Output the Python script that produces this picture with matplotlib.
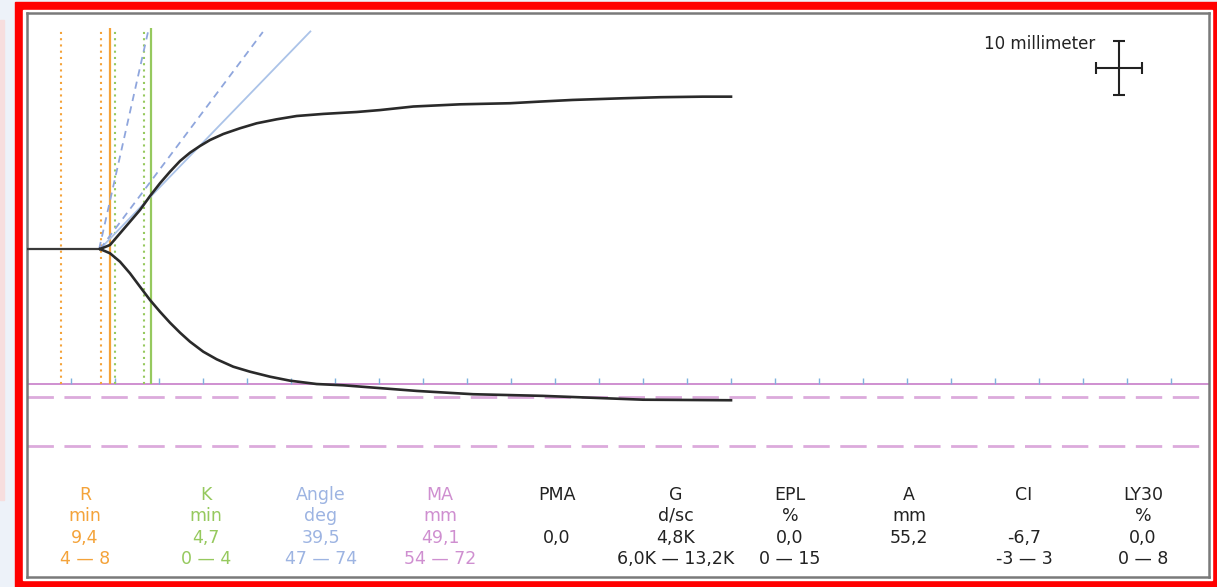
import matplotlib.pyplot as plt
from matplotlib.patches import Rectangle

# tracing, time in minutes, amplitude in mm (upper / lower branch)
base_t = [0.0, 8.3]
base_a = [0.0, 0.0]
upper_t = [8.3, 9.43, 10.57, 11.70, 12.84, 13.98, 15.11, 16.25, 17.39, 18.52, 19.66, 20.80, 22.31,
           24.20, 26.10, 28.38, 30.65, 33.67, 37.47, 40.1, 43.9, 49.2, 54.9, 58.3, 62.0, 67.6,
           72.0, 76.8, 80.0]
upper_a = [0.0, 0.73, 2.86, 4.98, 7.12, 9.67, 11.99, 14.11, 16.06, 17.57, 18.80, 19.89, 20.99,
           22.03, 22.94, 23.67, 24.27, 24.65, 25.0, 25.35, 26.0, 26.4, 26.6, 26.9, 27.2, 27.5,
           27.7, 27.8, 27.8]
lower_t = [8.3, 9.43, 10.57, 11.70, 12.84, 13.98, 15.11, 16.25, 17.39, 18.52, 20.03, 21.56, 23.44,
           25.34, 27.61, 29.89, 32.92, 35.94, 38.6, 44.3, 50.7, 58.6, 70.0, 80.0]
lower_a = [0.0, -0.78, -2.32, -4.43, -6.88, -9.31, -11.44, -13.45, -15.27, -16.91, -18.74, -20.13,
           -21.48, -22.39, -23.30, -24.03, -24.64, -24.87, -25.2, -25.9, -26.5, -26.8, -27.5, -27.6]

# marker lines
r_value = 9.45
r_range = [3.85, 8.4]
k_value = 14.1
k_range = [10.0, 13.3]
ma_value = 49.1
ma_range = [54, 72]
angle_solid = ([8.3, 32.2], [0.0, 39.7])
angle_dashed = [([8.3, 26.8], [0.0, 39.6]), ([8.2, 13.75], [0.0, 39.6])]
tick_minutes = list(range(0, 135, 5))

# results table
col_titles = ['R', 'K', 'Angle', 'MA', 'PMA', 'G', 'EPL', 'A', 'CI', 'LY30']
col_units = ['min', 'min', 'deg', 'mm', '', 'd/sc', '%', 'mm', '', '%']
col_values = ['9,4', '4,7', '39,5', '49,1', '0,0', '4,8K', '0,0', '55,2', '-6,7', '0,0']
col_ranges = ['4 — 8', '0 — 4', '47 — 74', '54 — 72', '', '6,0K — 13,2K', '0 — 15', '', '-3 — 3', '0 — 8']

ORANGE = '#f4a33a'
GREEN = '#96c95e'
BLUE = '#9db4e2'
PURPLE = '#cf8fd0'
col_colors = [ORANGE, GREEN, BLUE, PURPLE] + ['#222222'] * 6
col_x = [85, 206, 321, 440, 557, 676, 790, 909, 1024, 1143]
row_y = [495, 516, 538, 559]

W, H = 1217, 587
def fx(px):
    return px / W
def fy(py):
    return 1 - py / H

fig = plt.figure(figsize=(W / 100, H / 100), dpi=100)
fig.patch.set_facecolor('#edf2f9')
fig.add_artist(Rectangle((0, fy(500)), fx(4), fy(20) - fy(500), transform=fig.transFigure,
                         color='#f7dede', zorder=0))
fig.add_artist(Rectangle((fx(15), 0), 1 - fx(15), fy(2), transform=fig.transFigure,
                         color='#ff0000', zorder=0))
fig.add_artist(Rectangle((fx(23), fy(580)), fx(1212) - fx(23), fy(10) - fy(580),
                         transform=fig.transFigure, color='white', zorder=0))

ax = fig.add_axes([fx(27), fy(577), fx(1209) - fx(27), fy(13) - fy(577)])
PX_MIN, PX_MM = 8.8, 5.48
ax.set_xlim(0, (1209 - 27) / PX_MIN)
ax.set_ylim((249 - 577) / PX_MM, (249 - 13) / PX_MM)
ax.set_xticks([])
ax.set_yticks([])
for s in ax.spines.values():
    s.set_color('#7a7a7a')
    s.set_linewidth(1.8)

ma_half = -ma_value / 2
top = 40.3

# MA line and range
ax.axhline(ma_half, color=PURPLE, lw=1.4, zorder=2)
for m in ma_range:
    ax.axhline(-m / 2, color='#dcaadc', lw=2, ls=(0, (9.5, 3.8)), zorder=2)
ax.vlines(tick_minutes, ma_half, ma_half + 1.0, color='#7fb2de', lw=1, zorder=2)

# R and K markers
ax.vlines(r_range, ma_half, top, color=ORANGE, lw=1.5, ls=(0, (1, 2)), zorder=3)
ax.vlines([r_value], ma_half, top, color=ORANGE, lw=1.6, zorder=3)
ax.vlines(k_range, ma_half, top, color=GREEN, lw=1.5, ls=(0, (1, 2)), zorder=3)
ax.vlines([k_value], ma_half, top, color=GREEN, lw=1.6, zorder=3)

# angle
ax.plot(*angle_solid, color='#abc3e8', lw=1.3, zorder=3)
for xs, ys in angle_dashed:
    ax.plot(xs, ys, color='#8fa6dd', lw=1.3, ls=(0, (4, 3)), zorder=3)

# tracing
ax.plot(base_t, base_a, color='#3a3a3a', lw=1.6, zorder=4)
ax.plot(upper_t, upper_a, color='#2a2a2a', lw=1.9, zorder=4)
ax.plot(lower_t, lower_a, color='#2a2a2a', lw=1.9, zorder=4)

# scale marker
ax.errorbar(124.1, 33.0, xerr=2.6, yerr=4.95, color='#222222', lw=1.5, capsize=4, capthick=1.5)
ax.text(121.4, 37.4, '10 millimeter', ha='right', va='center', fontsize=12, color='#222222')

for i in range(len(col_titles)):
    rows = [col_titles[i], col_units[i], col_values[i], col_ranges[i]]
    for txt, y in zip(rows, row_y):
        if txt:
            fig.text(fx(col_x[i]), fy(y), txt, ha='center', va='center',
                     fontsize=12.5, color=col_colors[i])

fig.savefig('out.png', dpi=100, facecolor=fig.get_facecolor())
